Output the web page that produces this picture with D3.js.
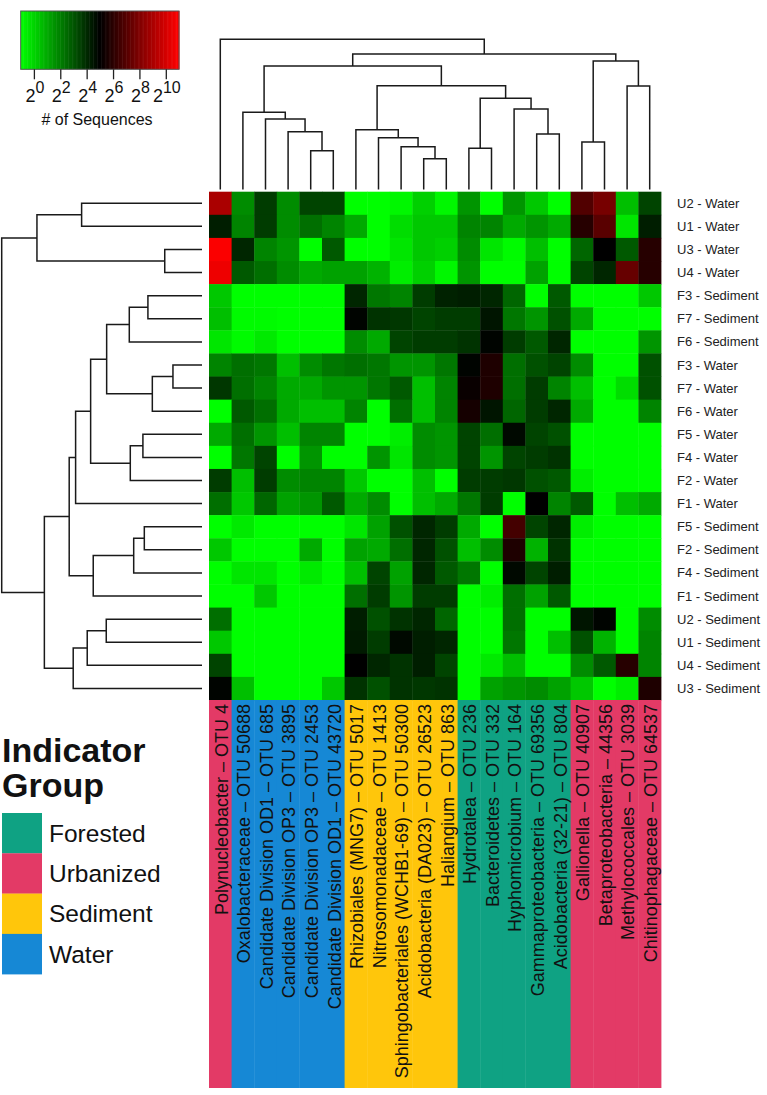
<!DOCTYPE html>
<html><head><meta charset="utf-8">
<script src="https://cdn.jsdelivr.net/npm/d3@7"></script>
<style>body{margin:0;background:#fff} svg{display:block} text{font-family:"Liberation Sans",Arial,sans-serif}</style>
</head><body><svg id="c" width="767" height="1095"></svg>
<script>
const rowLabels = ["U2 - Water","U1 - Water","U3 - Water","U4 - Water","F3 - Sediment","F7 - Sediment","F6 - Sediment","F3 - Water","F7 - Water","F6 - Water","F5 - Water","F4 - Water","F2 - Water","F1 - Water","F5 - Sediment","F2 - Sediment","F4 - Sediment","F1 - Sediment","U2 - Sediment","U1 - Sediment","U4 - Sediment","U3 - Sediment"];
const colLabels = ["Polynucleobacter \u2013 OTU 4","Oxalobacteraceae \u2013 OTU 50688","Candidate Division OD1 \u2013 OTU 685","Candidate Division OP3 \u2013 OTU 3895","Candidate Division OP3 \u2013 OTU 2453","Candidate Division OD1 \u2013 OTU 43720","Rhizobiales (MNG7) \u2013 OTU 5017","Nitrosomonadaceae \u2013 OTU 1413","Sphingobacteriales (WCHB1-69) \u2013 OTU 50300","Acidobacteria (DA023) \u2013 OTU 26523","Haliangium \u2013 OTU 863","Hydrotalea \u2013 OTU 236","Bacteroidetes \u2013 OTU 332","Hyphomicrobium \u2013 OTU 164","Gammaproteobacteria \u2013 OTU 69356","Acidobacteria (32-21) \u2013 OTU 804","Gallionella \u2013 OTU 40907","Betaproteobacteria \u2013 44356","Methylococcales \u2013 OTU 3039","Chitinophagaceae \u2013 OTU 64537"];
const colGroups = ["Urbanized","Water","Water","Water","Water","Water","Sediment","Sediment","Sediment","Sediment","Sediment","Forested","Forested","Forested","Forested","Forested","Urbanized","Urbanized","Urbanized","Urbanized"];
const groupNames = ["Forested","Urbanized","Sediment","Water"];
const groupColors = ["#0FA283","#E33A66","#FFC60B","#1688D5"];
// log2(# of sequences), one array per sample row, columns in display order
const values = [
 [9.0,1.7,3.6,1.7,3.4,3.4,-1,-1,-0.8,0.1,-0.8,1.5,-1,1.5,0.3,-1,6.9,7.8,0.5,3.4],
 [4.3,1.9,3.6,1.7,2.4,1.9,1.0,-1,-0.2,0.3,0.3,1.9,1.9,1.0,1.5,1.0,5.9,7.1,-0.4,4.3],
 [10.9,4.1,1.9,1.5,-1,2.9,-1,-1,-0.4,0.3,0.1,1.7,-0.4,-0.9,0.5,-1,2.6,5.0,2.9,5.9],
 [10.6,2.9,2.4,1.7,1.0,1.2,1.2,0.8,-0.6,0.1,-0.8,1.5,-1,-1,1.2,-1,3.4,4.1,7.4,5.9],
 [0.3,-1,-1,-1,-1,-1,4.1,2.2,1.9,3.6,4.2,4.3,4.1,2.6,-1,2.9,-1,-1,-1,0.3],
 [0.5,-0.9,-0.9,-1,-1,-1,4.9,3.8,3.7,3.4,3.6,3.6,4.5,2.2,1.5,3.1,1.0,-1,-1,-1],
 [-0.4,-0.9,-0.5,-1,-1,-1,1.7,1.0,3.4,3.6,3.6,3.8,4.9,3.6,2.9,4.1,-1,-1,-1,1.5],
 [1.9,2.4,2.2,0.5,1.7,2.2,2.4,2.2,1.5,1.5,2.2,4.9,5.7,2.4,3.1,3.4,1.7,-1,-1,3.1],
 [3.7,2.4,1.9,1.0,1.0,1.5,1.5,2.2,2.9,0.5,1.9,5.2,5.7,2.4,3.6,1.9,0.5,-1,-0.2,3.1],
 [-1,2.9,2.4,1.0,0.5,0.5,1.9,-1,2.4,0.5,1.9,5.5,4.5,2.6,3.6,4.1,1.0,-1,-1,1.9],
 [1.0,2.4,1.5,0.5,1.9,1.9,-1,-1,-0.6,1.7,1.5,3.4,2.4,4.8,3.4,3.1,-1,-1,-1,-1],
 [-1,2.2,3.4,-1,1.5,-1,-1,1.5,-0.4,1.7,1.5,3.4,1.5,3.4,3.6,3.8,-1,-1,-1,-1],
 [3.6,0.5,3.6,1.7,1.9,1.9,0.3,-1,-1,0.5,-1,3.6,3.6,3.7,3.1,2.9,-0.6,-1,-1,-1],
 [2.4,0.3,2.6,1.2,1.5,2.9,1.0,1.7,-1,0.5,1.0,2.2,3.6,-1,5.0,1.9,2.9,-1,0.5,1.0],
 [-1,-0.5,-1,-1,-1,-1,-0.4,1.2,3.1,4.1,3.6,1.0,-1,6.6,3.4,4.1,-0.6,-1,-1,-1],
 [0.3,-1,-1,-1,1.0,-1,1.2,1.0,2.4,4.1,3.1,0.5,1.7,5.7,0.8,3.8,-1,-1,-1,-1],
 [-1,-0.4,-0.4,-1,-0.5,-1,0.5,3.4,1.2,4.1,2.9,2.2,-1,4.8,3.4,4.3,-1,-1,-1,-1],
 [-1,-1,0.3,-1,-1,-1,2.4,3.6,1.5,3.6,3.6,-1,-0.6,2.4,1.2,2.9,-1,-1,-1,-1],
 [2.4,-1,-1,-1,-1,-1,4.3,3.1,3.8,4.1,2.6,-1,-1,2.4,-1,-1,4.5,4.9,-1,1.7],
 [0.3,-1,-1,-1,-1,-1,4.4,3.6,4.8,4.3,4.1,-1,-1,2.2,-1,0.5,3.1,0.8,-1,1.9],
 [3.4,-1,-1,-1,-1,-1,5.0,4.1,3.8,4.3,3.4,-1,-0.5,0.5,-1,-1,1.7,2.9,5.9,1.9],
 [4.9,0.5,-1,-1,-1,0.3,3.8,3.1,3.8,3.7,3.8,-1,1.2,1.5,1.7,1.2,0.3,-1,-0.6,5.7]
];
// hclust-style merges: negative = leaf (-1 is first leaf), positive = earlier merge step; third = height
const rowMerge = [
 [-1,-2,60.1],[-3,-4,18.6],[1,2,82.4],[-5,-6,27.0],[4,-7,36.3],[-8,-9,14.5],[6,-10,24.8],[5,7,47.6],
 [-11,-12,29.5],[9,-13,35.8],[8,10,55.6],[11,-14,63.1],[-15,-16,28.8],[13,-17,34.1],[14,-18,54.3],
 [12,15,66.3],[-19,-20,47.8],[17,-21,57.3],[18,-22,64.3],[16,19,78.7],[3,20,100]
];
const colMerge = [
 [-5,-6,24.1],[-4,1,37.0],[-3,2,45.7],[-2,3,50.2],[-10,-11,18.6],[-9,5,26.8],[-8,6,32.9],[-7,7,38.4],
 [-12,-13,25.7],[-15,-16,35.4],[-14,10,52.5],[9,11,59.8],[8,12,68.4],[4,13,81.8],[-17,-18,30.0],
 [-19,-20,68.2],[15,16,85.2],[14,17,90.0],[-1,18,100]
];
const keyTicks = [0,2,4,6,8,10];
const keyDomain = [-1,11];

const svg = d3.select("#c");
const X0 = 209, X1 = 661, Y0 = 191.7, Y1 = 700;
const x = d3.scaleBand().domain(d3.range(colLabels.length)).range([X0, X1]);
const y = d3.scaleBand().domain(d3.range(rowLabels.length)).range([Y0, Y1]);
const color = d3.scaleLinear().domain([keyDomain[0], (keyDomain[0]+keyDomain[1])/2, keyDomain[1]])
  .range(["#00ff00","#000000","#ff0000"]).clamp(true);

// heatmap cells
const cells = [];
values.forEach((row, r) => row.forEach((v, c) => cells.push({r, c, v})));
svg.append("g").selectAll("rect").data(cells).join("rect")
  .attr("x", d => x(d.c)).attr("y", d => y(d.r))
  .attr("width", x.bandwidth() + 0.4).attr("height", y.bandwidth() + 0.4)
  .attr("fill", d => color(d.v));

// dendrogram builder
function dendro(merge, leafPos, hScale, leafEnd, vertical) {
  const nodes = [];
  const info = k => k < 0 ? {p: leafPos(-k - 1), h: null} : nodes[k - 1];
  const p = d3.path();
  const pt = (pos, hv) => vertical ? [pos, hv] : [hv, pos];
  merge.forEach(([a, b, h]) => {
    const A = info(a), B = info(b);
    const hy = hScale(h);
    const ha = A.h === null ? leafEnd : hScale(A.h);
    const hb = B.h === null ? leafEnd : hScale(B.h);
    p.moveTo(...pt(A.p, ha)); p.lineTo(...pt(A.p, hy)); p.lineTo(...pt(B.p, hy)); p.lineTo(...pt(B.p, hb));
    nodes.push({p: (A.p + B.p) / 2, h});
  });
  return p.toString();
}
const colH = d3.scaleLinear().domain([0, 100]).range([186, 39.3]);
svg.append("path").attr("d", dendro(colMerge, i => x(i) + x.bandwidth()/2, colH, 189.5, true))
  .attr("fill","none").attr("stroke","#1a1a1a").attr("stroke-width",1.5);
const rowH = d3.scaleLinear().domain([0, 100]).range([202, 1.7]);
svg.append("path").attr("d", dendro(rowMerge, i => y(i) + y.bandwidth()/2, rowH, 202, false))
  .attr("fill","none").attr("stroke","#1a1a1a").attr("stroke-width",1.5);

// row labels
svg.append("g").selectAll("text").data(rowLabels).join("text")
  .attr("x", 677).attr("y", (d, i) => y(i) + y.bandwidth()/2).attr("dy", "0.35em")
  .attr("font-size", 13).attr("fill", "#222").text(d => d);

// column group bands and labels
const gColor = d3.scaleOrdinal().domain(groupNames).range(groupColors);
svg.append("g").selectAll("rect").data(colGroups).join("rect")
  .attr("x", (d, i) => x(i)).attr("y", Y1).attr("width", x.bandwidth() + 0.4).attr("height", 1088 - Y1)
  .attr("fill", d => gColor(d));
svg.append("g").selectAll("text").data(colLabels).join("text")
  .attr("transform", (d, i) => `translate(${x(i) + x.bandwidth()/2 + 1},${Y1 + 4}) rotate(-90)`)
  .attr("text-anchor", "end").attr("dy", "0.35em").attr("font-size", 18).attr("fill", "#111")
  .text(d => d);

// colour key
const kx = d3.scaleLinear().domain(keyDomain).range([20.7, 179]);
const kg = svg.append("g");
const steps = d3.range(keyDomain[0], keyDomain[1], 0.1);
kg.selectAll("rect").data(steps).join("rect")
  .attr("x", d => kx(d)).attr("y", 11).attr("width", kx(0.1) - kx(0) + 0.5).attr("height", 58.3)
  .attr("fill", d => color(d + 0.05));
kg.append("rect").attr("x", 20.7).attr("y", 11).attr("width", 179 - 20.7).attr("height", 58.3)
  .attr("fill", "none").attr("stroke", "#555").attr("stroke-width", 1);
const ax = kg.append("g").attr("transform", "translate(0,69.3)")
  .call(d3.axisBottom(kx).tickValues(keyTicks).tickSize(10).tickFormat(""));
ax.select(".domain").remove();
ax.selectAll(".tick line").attr("stroke", "#222").attr("stroke-width", 1.3);
const tl = kg.selectAll("text.tl").data(keyTicks).join("text").attr("class", "tl")
  .attr("x", d => kx(d) + 1).attr("y", 102).attr("text-anchor", "middle").attr("font-size", 18).attr("fill", "#111");
tl.append("tspan").text("2");
tl.append("tspan").attr("dy", -9).attr("font-size", 16).text(d => d);
kg.append("text").attr("x", 97).attr("y", 125).attr("text-anchor", "middle").attr("font-size", 16)
  .attr("fill", "#111").text("# of Sequences");

// legend
const lg = svg.append("g");
lg.append("text").attr("x", 2).attr("y", 762).attr("font-size", 34).attr("font-weight", "bold").attr("fill", "#111").text("Indicator");
lg.append("text").attr("x", 2).attr("y", 797).attr("font-size", 34).attr("font-weight", "bold").attr("fill", "#111").text("Group");
lg.selectAll("rect").data(groupNames).join("rect")
  .attr("x", 2).attr("y", (d, i) => 813 + 40.3 * i).attr("width", 40).attr("height", 40.5)
  .attr("fill", d => gColor(d));
lg.selectAll("text.li").data(groupNames).join("text").attr("class", "li")
  .attr("x", 49).attr("y", (d, i) => 833 + 40.3 * i).attr("dy", "0.36em")
  .attr("font-size", 24.5).attr("fill", "#111").text(d => d);
</script>
</body></html>
